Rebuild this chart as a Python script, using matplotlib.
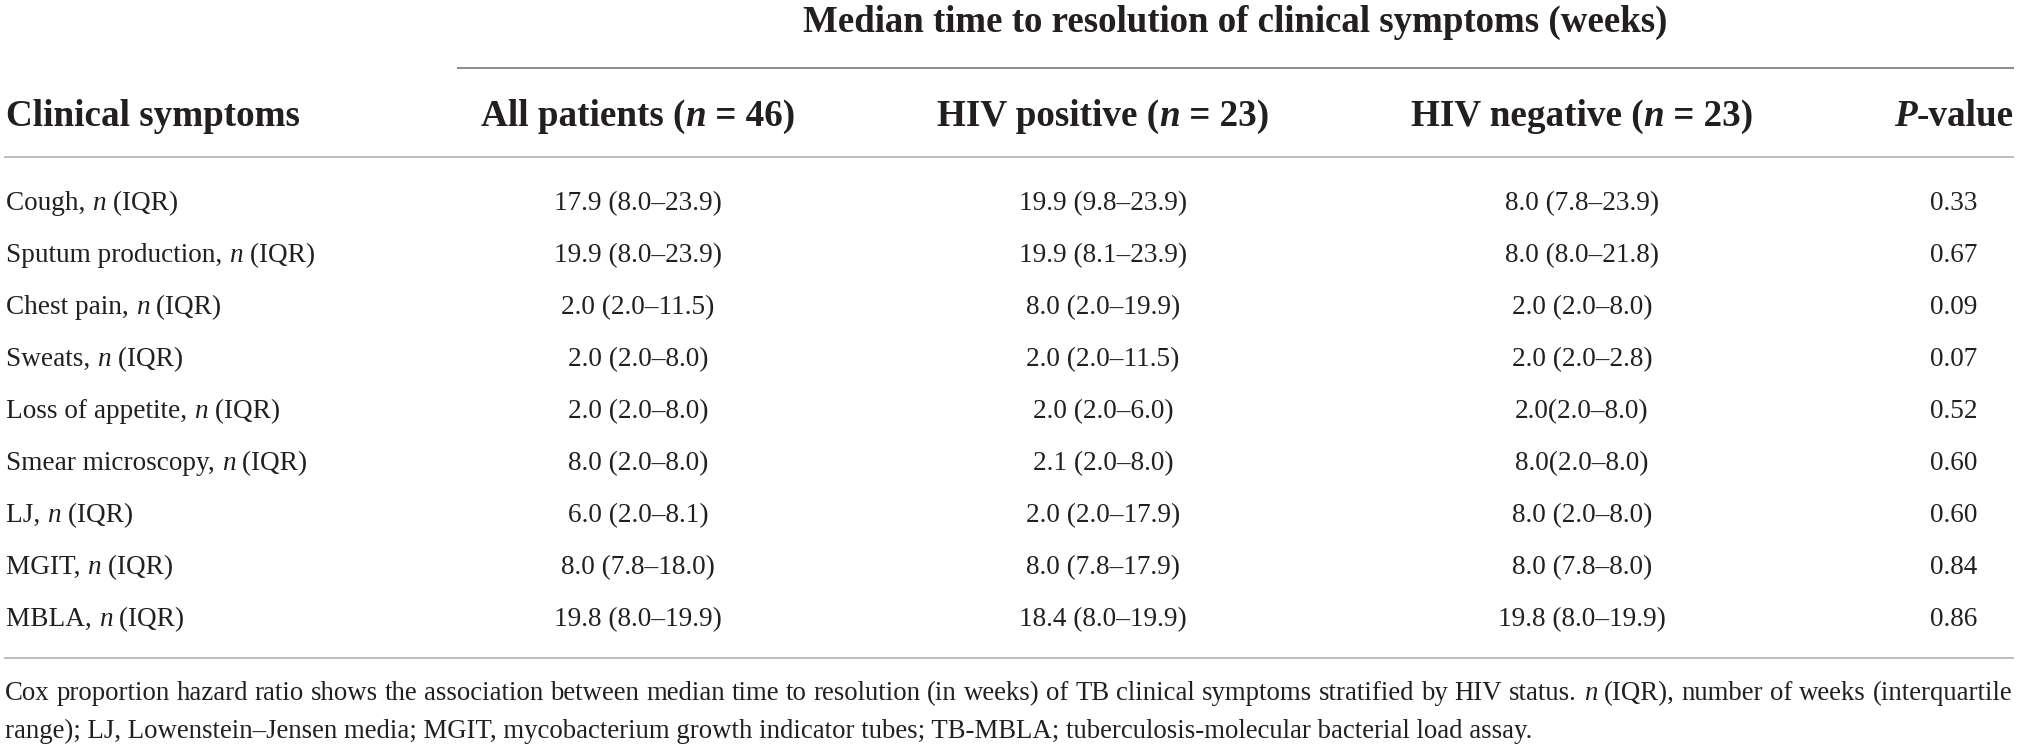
import matplotlib
matplotlib.use("Agg")
import matplotlib.pyplot as plt

# ---------------- data ----------------
title = "Median time to resolution of clinical symptoms (weeks)"
row_header = "Clinical symptoms"
col_groups = ["All patients", "HIV positive", "HIV negative"]
col_n = [46, 23, 23]
symptoms = ["Cough", "Sputum production", "Chest pain", "Sweats",
            "Loss of appetite", "Smear microscopy", "LJ", "MGIT", "MBLA"]
all_patients = ["17.9 (8.0–23.9)", "19.9 (8.0–23.9)", "2.0 (2.0–11.5)",
                "2.0 (2.0–8.0)", "2.0 (2.0–8.0)", "8.0 (2.0–8.0)",
                "6.0 (2.0–8.1)", "8.0 (7.8–18.0)", "19.8 (8.0–19.9)"]
hiv_positive = ["19.9 (9.8–23.9)", "19.9 (8.1–23.9)", "8.0 (2.0–19.9)",
                "2.0 (2.0–11.5)", "2.0 (2.0–6.0)", "2.1 (2.0–8.0)",
                "2.0 (2.0–17.9)", "8.0 (7.8–17.9)", "18.4 (8.0–19.9)"]
hiv_negative = ["8.0 (7.8–23.9)", "8.0 (8.0–21.8)", "2.0 (2.0–8.0)",
                "2.0 (2.0–2.8)", "2.0(2.0–8.0)", "8.0(2.0–8.0)",
                "8.0 (2.0–8.0)", "8.0 (7.8–8.0)", "19.8 (8.0–19.9)"]
p_values = ["0.33", "0.67", "0.09", "0.07", "0.52", "0.60", "0.60", "0.84", "0.86"]
foot1 = [("Cox proportion hazard ratio shows the association between median time to resolution "
          "(in weeks) of TB clinical symptoms stratified by HIV status. ", "r"),
         ("n", "i"), (" (IQR), number of weeks (interquartile", "r")]
foot2 = [("range); LJ, Lowenstein–Jensen media; MGIT, mycobacterium growth indicator tubes; "
          "TB-MBLA; tuberculosis-molecular bacterial load assay.", "r")]

# ---------------- layout ----------------
W, H = 2019, 748
FONT = "Liberation Serif"
TXT = "#231f20"
fig = plt.figure(figsize=(W / 100, H / 100), dpi=100)
ax = fig.add_axes([0, 0, 1, 1])
ax.set_xlim(0, W)
ax.set_ylim(H, 0)
ax.axis("off")
renderer = fig.canvas.get_renderer()

STY = {"r": ("normal", "normal"), "i": ("italic", "normal"),
       "b": ("normal", "bold"), "bi": ("italic", "bold")}


def measure(s, st, size):
    style, weight = STY[st]
    def w(txt):
        t = ax.text(0, 0, txt, fontfamily=FONT, fontstyle=style,
                    fontweight=weight, fontsize=size)
        bb = t.get_window_extent(renderer)
        t.remove()
        return bb.width
    return w("|" + s + "|") - w("||")


def seg_width(segs, size):
    return sum(measure(s, st, size) for s, st in segs)


def fit(segs, target, base=20.0):
    return base * target / seg_width(segs, base)


def put(s, st, x, y, size):
    style, weight = STY[st]
    ax.text(x, y, s, fontfamily=FONT, fontstyle=style, fontweight=weight,
            fontsize=size, color=TXT, va="baseline", ha="left")


def draw(segs, x, y, size, align="left"):
    total = seg_width(segs, size)
    if align == "center":
        x = x - total / 2
    elif align == "right":
        x = x - total
    for s, st in segs:
        put(s, st, x, y, size)
        x += measure(s, st, size)


def draw_justified(segs, x0, x1, y, size):
    words = []
    for s, st in segs:
        for wd in s.split(" "):
            if wd:
                words.append((wd, st))
    widths = [measure(wd, st, size) for wd, st in words]
    gap = (x1 - x0 - sum(widths)) / (len(words) - 1)
    x = x0
    for (wd, st), wdt in zip(words, widths):
        put(wd, st, x, y, size)
        x += wdt + gap


body_size = fit([("17.9 (8.0–23.9)", "r")], 168)
head_size = fit([(row_header, "b")], 294)
title_size = fit([(title, "b")], 865)
foot_size = fit([("range); LJ, Lowenstein–Jensen media; MGIT, mycobacterium growth indicator tub", "r")], 890)

col_x = [638, 1103, 1582]
p_x = 1954
left_x = 6
line_l, line_r = 4, 2014
span_l = 457

# lines
ax.hlines(68, span_l, line_r, color="#8a8a8a", lw=1.4)
ax.hlines(157, line_l, line_r, color="#bdbdbd", lw=1.4)
ax.hlines(658, line_l, line_r, color="#bdbdbd", lw=1.4)

# title
draw([(title, "b")], (span_l + line_r) / 2, 32, title_size, "center")

# headers
draw([(row_header, "b")], left_x, 126, head_size)
for cx, g, n in zip(col_x, col_groups, col_n):
    draw([(g + " (", "b"), ("n", "bi"), (f" = {n})", "b")], cx, 126, head_size, "center")
draw([("P", "bi"), ("-value", "b")], p_x, 126, head_size, "center")

# rows
for i, sym in enumerate(symptoms):
    y = 210 + 52 * i
    draw([(sym + ", ", "r"), ("n", "i"), (" (IQR)", "r")], left_x, y, body_size)
    for cx, col in zip(col_x, [all_patients, hiv_positive, hiv_negative]):
        draw([(col[i], "r")], cx, y, body_size, "center")
    draw([(p_values[i], "r")], p_x, y, body_size, "center")

# footnote
draw_justified(foot1, 5, 2012, 700, foot_size)
draw(foot2, 5, 738, foot_size)

fig.savefig("out.png", dpi=100, facecolor="white")
